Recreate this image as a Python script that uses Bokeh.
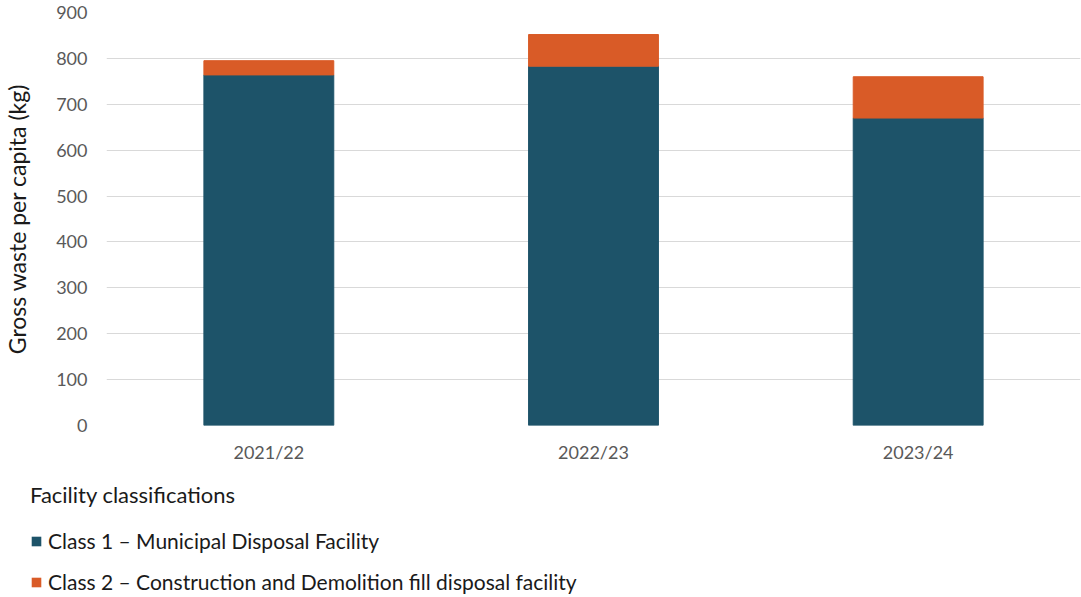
from bokeh.plotting import figure
from bokeh.layouts import column
from bokeh.models import Range1d, FactorRange, Legend, LegendItem, ColumnDataSource
from bokeh.embed import file_html
from bokeh.resources import INLINE

years = ["2021/22", "2022/23", "2023/24"]
class1 = [764, 783, 670]
class2 = [31, 69, 90]
series = ["class1", "class2"]
labels = ["Class 1 \u2013 Municipal Disposal Facility",
          "Class 2 \u2013 Construction and Demolition fill disposal facility"]
legend_title = "Facility classifications"
colors = ["#1D5369", "#D95B27"]
FONT = "Lato"

src = ColumnDataSource(dict(year=years, class1=class1, class2=class2))

p = figure(width=1081, height=470, x_range=FactorRange(*years, range_padding=0),
           y_range=Range1d(0, 900), output_backend="svg", toolbar_location=None,
           min_border_left=105, min_border_right=1, min_border_top=12, min_border_bottom=45)
p.frame_align = False

rs = p.vbar_stack(series, x="year", width=0.4, color=colors, source=src)

p.outline_line_color = None
p.xgrid.grid_line_color = None
p.ygrid.grid_line_color = "#d9d9d9"
p.ygrid.grid_line_width = 1

for ax in (p.xaxis[0], p.yaxis[0]):
    ax.axis_line_color = None
    ax.major_tick_line_color = None
    ax.minor_tick_line_color = None
    ax.major_tick_out = 0
    ax.major_tick_in = 0
    ax.minor_tick_out = 0
    ax.minor_tick_in = 0
    ax.major_label_text_font = FONT
    ax.major_label_text_font_size = "18px"
    ax.major_label_text_color = "#595959"

p.yaxis.ticker = [0, 100, 200, 300, 400, 500, 600, 700, 800, 900]
p.yaxis.major_label_standoff = 19
p.yaxis.axis_label = "Gross waste per capita (kg)"
p.yaxis.axis_label_text_font = FONT
p.yaxis.axis_label_text_font_size = "23px"
p.yaxis.axis_label_text_font_style = "normal"
p.yaxis.axis_label_text_color = "#1a1a1a"
p.yaxis.axis_label_standoff = 22
p.xaxis.major_label_standoff = 15

# legend panel below the chart
p2 = figure(width=1081, height=127, x_range=Range1d(0, 1), y_range=Range1d(0, 1),
            output_backend="svg", toolbar_location=None, x_axis_type=None, y_axis_type=None,
            min_border_left=0, min_border_right=0, min_border_top=0, min_border_bottom=0)
p2.frame_align = False
p2.outline_line_color = None
p2.xgrid.grid_line_color = None
p2.ygrid.grid_line_color = None
# zero-height proxy bars, used only to give the legend its swatches
proxy = ColumnDataSource(dict(x=[0.5], top=[0.0]))
keys = [p2.vbar(x="x", top="top", width=0.01, fill_color=c, line_color=None, source=proxy)
        for c in colors]

legend = Legend(items=[LegendItem(label=labels[i], renderers=[keys[i]]) for i in range(2)],
                title=legend_title, location=(30, 3), orientation="vertical")
legend.border_line_color = None
legend.background_fill_alpha = 0
legend.padding = 0
legend.margin = 0
legend.title_text_font = FONT
legend.title_text_font_size = "22px"
legend.title_text_font_style = "normal"
legend.title_text_color = "#1a1a1a"
legend.title_standoff = 20
legend.label_text_font = FONT
legend.label_text_font_size = "21px"
legend.label_text_color = "#1a1a1a"
legend.glyph_width = 12
legend.glyph_height = 12
legend.label_standoff = 6
legend.label_height = 20
legend.spacing = 16
p2.add_layout(legend, "center")

layout = column(p, p2, spacing=0)
open("out.html", "w").write(file_html(layout, INLINE))
